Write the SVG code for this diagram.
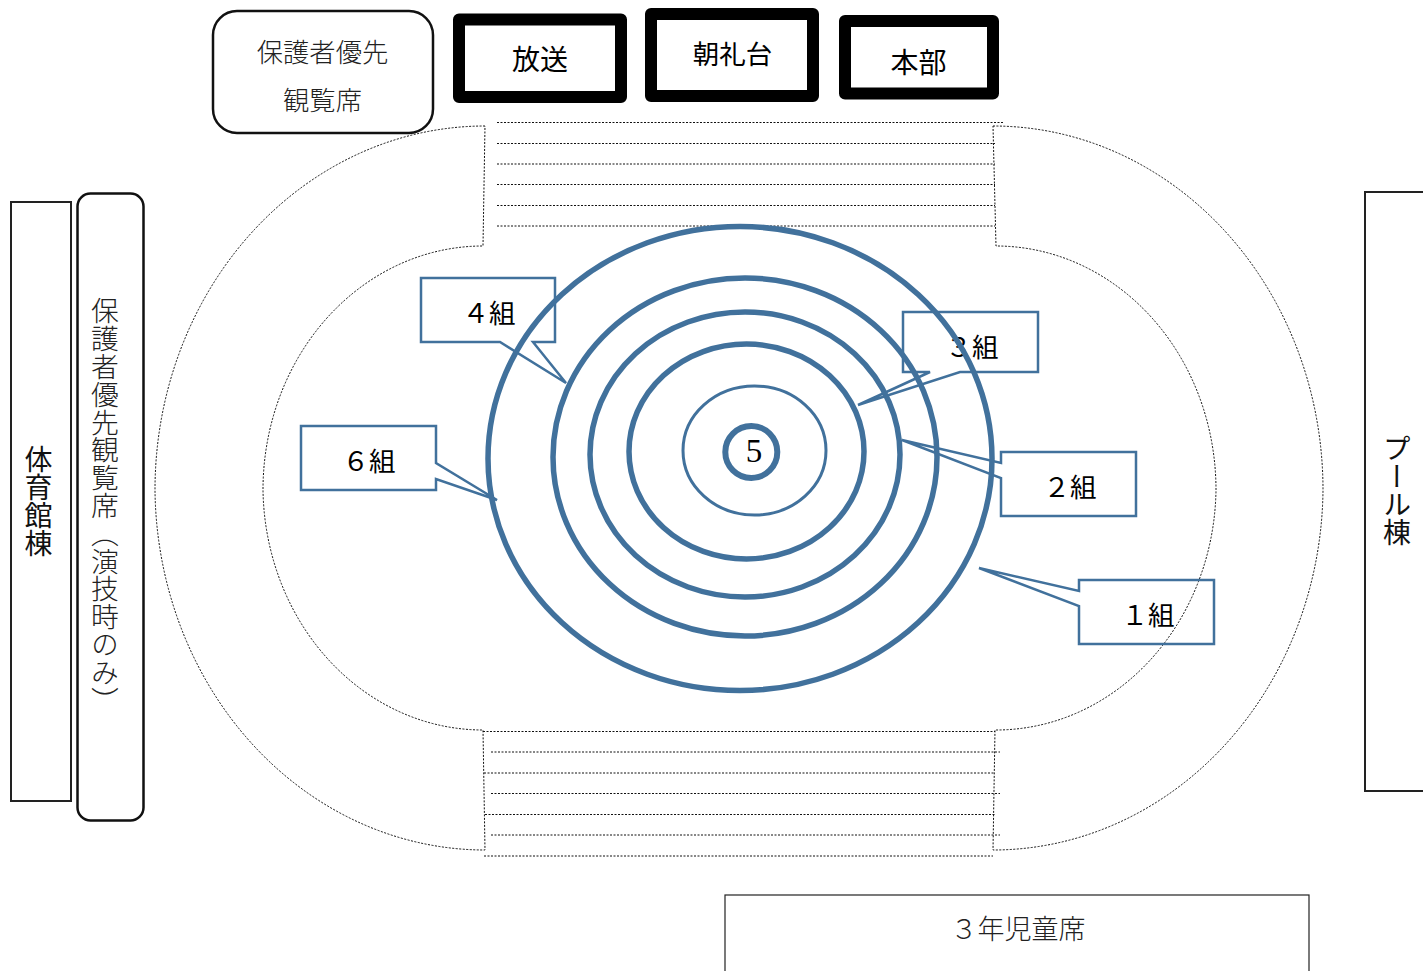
<svg xmlns="http://www.w3.org/2000/svg" width="1423" height="971" viewBox="0 0 1423 971">
<style>
text{font-family:"Noto Sans CJK JP","Noto Sans CJK SC",sans-serif;fill:#000;}
.t{font-size:26.300px;fill:#222;text-anchor:middle;font-weight:300;}
.b{font-size:28px;text-anchor:middle;}
.c{font-size:26.500px;text-anchor:middle;}
.v{writing-mode:vertical-rl;font-size:28px;fill:#111;}
.d{fill:none;stroke:#111;stroke-width:1;stroke-dasharray:2 1.500;}
.k{fill:#fff;stroke:#000;stroke-width:12;stroke-linejoin:round;}
.o{fill:#fff;stroke:#111;stroke-width:2.500;}
.s{fill:#fff;stroke:#222;stroke-width:2;}
.l{fill:none;stroke:#41719c;stroke-width:2.500;}
.r{fill:none;stroke:#41719c;stroke-width:5.500;}
</style>
<g id="track" class="d">
<path d="M485,126A330,364 0 0 0 155,490A330,364 0 0 0 485,850L483,730A220,244 0 0 1 263,490A220,244 0 0 1 483,246Z"/>
<path d="M993,126A330,364 0 0 1 1323,490A330,364 0 0 1 993,850L995,730A220,244 0 0 0 1216,490A220,244 0 0 0 996,246Z"/>
<path d="M497,122.500H1003M497,143.500H995M497,164H995M497,184.500H995M497,205.500H995M497,226H995"/>
<path d="M483,731.500H995M491,752H1000M484,773H994M491,793.500H1000M485,814.500H996M491,835H1000M484,856H993"/>
</g>
<g id="guardian-top"><rect class="o" x="213" y="11" width="220" height="122" rx="24"/><text class="t" x="322.500" y="62">保護者優先</text><text class="t" x="322.500" y="110">観覧席</text></g>
<g id="broadcast"><rect class="k" x="459" y="19.500" width="162" height="77.500"/><text class="b" x="540" y="70">放送</text></g>
<g id="stand"><rect class="k" x="651" y="14" width="162" height="82"/><text class="c" x="732.500" y="64">朝礼台</text></g>
<g id="hq"><rect class="k" x="845" y="21" width="148" height="72.500"/><text class="b" x="918.500" y="73">本部</text></g>
<g id="gym"><rect class="s" x="11" y="202" width="60" height="599"/><text class="v" x="38.500" y="445">体育館棟</text></g>
<g id="guardian-left"><rect class="o" x="77.500" y="193.500" width="66" height="627" rx="13"/><text class="v" x="105" y="297" style="font-size:27.800px;font-weight:300;fill:#222">保護者優先観覧席（演技時のみ）</text></g>
<g id="pool"><rect class="s" x="1365" y="192" width="70" height="599"/><text class="v" x="1397" y="434">プール棟</text></g>
<g id="grade3"><rect fill="#fff" stroke="#222" stroke-width="1.200" x="725" y="895" width="584" height="90"/><text x="1018" y="939" style="font-size:27px;text-anchor:middle;font-weight:300;fill:#222">３年児童席</text></g>
<g id="group4"><path class="l" d="M421,278H555V342H533L566,383L500,342H421Z"/><text class="c" x="489" y="323">４組</text></g>
<g id="group6"><path class="l" d="M301,426H436V463L497,500L436,479V490H301Z"/><text class="c" x="369" y="471">６組</text></g>
<g id="group3"><path class="l" d="M903,312H1038V372H960L858,405L930,372H903Z"/><text class="c" x="972" y="357">３組</text></g>
<g id="group2"><path class="l" d="M1001,452H1136V516H1001V478L902,440L1001,463Z"/><text class="c" x="1070" y="497">２組</text></g>
<g id="group1"><path class="l" d="M1079,580H1214V644H1079V606L979,568L1079,591Z"/><text class="c" x="1148" y="625">１組</text></g>
<g id="rings">
<ellipse class="r" cx="740" cy="458.500" rx="252" ry="232"/>
<ellipse class="r" cx="745" cy="457" rx="192" ry="179"/>
<ellipse class="r" cx="745" cy="454.500" rx="155" ry="142.500"/>
<ellipse class="r" cx="746.500" cy="451.500" rx="117.500" ry="107.500"/>
<ellipse fill="none" stroke="#41719c" stroke-width="3" cx="754.500" cy="450.500" rx="71.500" ry="64.500"/>
</g>
<g id="center"><circle fill="#fff" stroke="#41719c" stroke-width="6" cx="751.300" cy="452" r="26"/><text x="754" y="462" style="font-family:'Liberation Serif',serif;font-size:33px;text-anchor:middle">5</text></g>
</svg>
